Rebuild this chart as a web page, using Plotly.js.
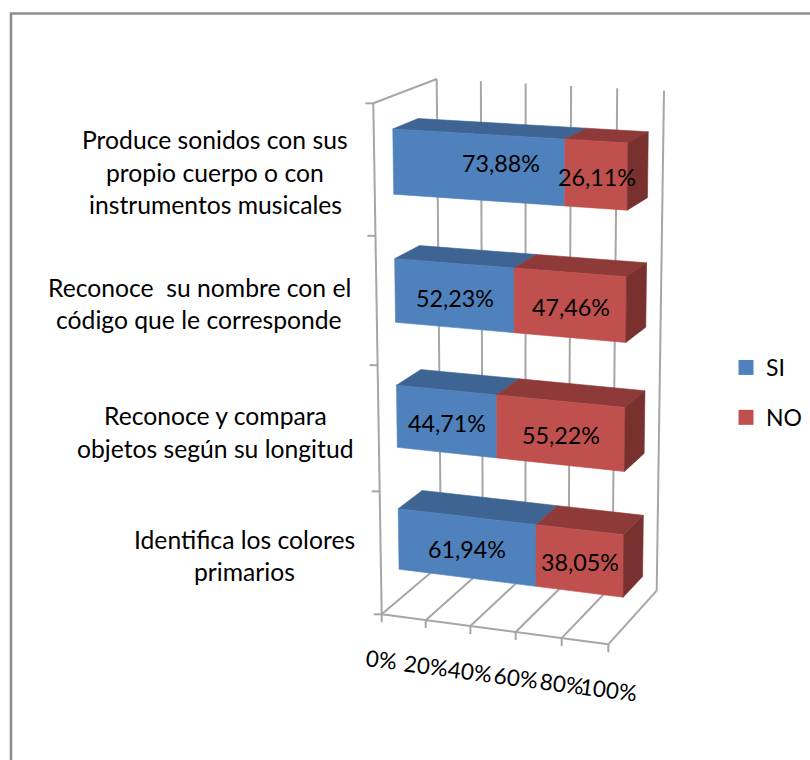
<!DOCTYPE html>
<html>
<head>
<meta charset="utf-8">
<script src="https://cdn.plot.ly/plotly-3.0.1.min.js"></script>
<style>html,body{margin:0;padding:0;background:#fff}#chart{width:810px;height:760px}</style>
</head>
<body>
<div id="chart"></div>
<script>
// ---- data ----
const categories = [
  ["Produce sonidos con sus", "propio cuerpo o con", "instrumentos musicales"],
  ["Reconoce\u00a0 su nombre con el", "código que le corresponde"],
  ["Reconoce y compara", "objetos según su longitud"],
  ["Identifica los colores", "primarios"]
];
const si = [73.88, 52.23, 44.71, 61.94];
const no = [26.11, 47.46, 55.22, 38.05];
const valueTicks = [0, 20, 40, 60, 80, 100];

// ---- layout of the oblique 3-D box (screen pixels of the plot cube's corners) ----
const cube = {
  fbl: [381.7, 614.3], fbr: [608.3, 644.3], ftl: [373.3, 103.3], ftr: [613.0, 116.7],
  bbl: [441.0, 564.0], bbr: [656.7, 590.7], btl: [436.7, 79.0],  btr: [664.0, 90.7]
};
const depthFront = 0.3, depthBack = 0.7, barHalf = 0.0625;
const warpT = 0.036, warpR = 0.05;
const FONT = "Lato, Carlito, 'Open Sans', sans-serif";
const FS_CAT = 24.7, FS_VAL = 23.3, FS_TICK = 22.5, FS_LEG = 23;
const GRID = "#a6a6a6";
const faces = {
  si: {front: "#4f81bd", top: "#3e6493"},
  no: {front: "#c0504d", top: "#8e3a38", side: "#793130"}
};
const categoryCentres = [215, 199, 215, 244];
const categoryLineYs = [[139, 172, 204], [287, 319], [415, 448], [539, 571]];
const labelAnchors = {
  si: [[500.7, 162.7], [455, 298.3], [447.3, 423.3], [467.3, 549.3]],
  no: [[597.3, 177.3], [570.7, 307.3], [561, 435], [580, 562]]
};

const lerp = (a, b, k) => [a[0] + (b[0] - a[0]) * k, a[1] + (b[1] - a[1]) * k];
function project(t, r, d) {
  const tt = t + warpT * t * (t - 1), rr = r + warpR * r * (r - 1);
  const f = lerp(lerp(cube.fbl, cube.fbr, tt), lerp(cube.ftl, cube.ftr, tt), rr);
  const b = lerp(lerp(cube.bbl, cube.bbr, tt), lerp(cube.btl, cube.btr, tt), rr);
  return lerp(f, b, d);
}

const traces = [];
function lineTrace(segments, width) {
  const x = [], y = [];
  segments.forEach(s => { s.forEach(p => { x.push(p[0]); y.push(p[1]); }); x.push(null); y.push(null); });
  traces.push({type: "scatter", mode: "lines", x, y, hoverinfo: "skip", showlegend: false,
    line: {color: GRID, width: width || 2}});
}
function poly(points, color) {
  const closed = points.concat([points[0]]);
  traces.push({type: "scatter", mode: "lines", fill: "toself", fillcolor: color,
    x: closed.map(p => p[0]), y: closed.map(p => p[1]),
    line: {color: color, width: 0.6}, hoverinfo: "skip", showlegend: false});
}

// walls and floor
const gridSegs = valueTicks.map(v => [project(v / 100, 1, 1), project(v / 100, 0, 1)]);
const floorSegs = valueTicks.map(v => [project(v / 100, 0, 1), project(v / 100, 0, 0)]);
const tickSegs = valueTicks.map(v => {
  const p = project(v / 100, 0, 0);
  return [p, [p[0], p[1] + 8]];
});
const rowSegs = [0, 1, 2, 3, 4].map(k => {
  const p = project(0, k / 4, 0);
  return [p, [p[0] - 8, p[1]]];
});
lineTrace(gridSegs);
lineTrace(floorSegs);
lineTrace(tickSegs);
lineTrace(rowSegs);
lineTrace([[project(0, 0, 0), project(1, 0, 0)], [project(0, 0, 0), project(0, 1, 0)], [project(0, 1, 0), project(0, 1, 1)]]);

// bars
categories.forEach((c, i) => {
  const rc = (categories.length - 1 - i + 0.5) / categories.length;
  const r0 = rc - barHalf, r1 = rc + barHalf;
  const split = si[i] / (si[i] + no[i]);
  [[0, split, faces.si], [split, 1, faces.no]].forEach(([t0, t1, col]) => {
    poly([project(t0, r1, depthFront), project(t1, r1, depthFront), project(t1, r1, depthBack), project(t0, r1, depthBack)], col.top);
    poly([project(t0, r0, depthFront), project(t1, r0, depthFront), project(t1, r1, depthFront), project(t0, r1, depthFront)], col.front);
  });
  poly([project(1, r0, depthFront), project(1, r0, depthBack), project(1, r1, depthBack), project(1, r1, depthFront)], faces.no.side);
});

// legend entries
traces.push({type: "scatter", mode: "markers", name: "SI", x: [null], y: [null], legendgroup: "si",
  marker: {symbol: "square", size: 15, color: faces.si.front}});
traces.push({type: "scatter", mode: "markers", name: "NO", x: [null], y: [null], legendgroup: "no",
  marker: {symbol: "square", size: 15, color: faces.no.front}});

// text
const pct = v => v.toFixed(2).replace(".", ",") + "%";
const note = (x, y, text, size, extra) => Object.assign({
  x, y, xref: "x", yref: "y", text, showarrow: false, xanchor: "center", yanchor: "middle",
  font: {family: FONT, size, color: "#000"}
}, extra || {});
const annotations = [];
si.forEach((v, i) => annotations.push(note(labelAnchors.si[i][0], labelAnchors.si[i][1], pct(v), FS_VAL)));
no.forEach((v, i) => annotations.push(note(labelAnchors.no[i][0], labelAnchors.no[i][1], pct(v), FS_VAL)));
categories.forEach((lines, i) => lines.forEach((ln, j) =>
  annotations.push(note(categoryCentres[i], categoryLineYs[i][j], ln, FS_CAT))));
valueTicks.forEach(v => {
  const p = project(v / 100, 0, 0);
  annotations.push(note(p[0], p[1] + 45, v + "%", FS_TICK, {textangle: 7}));
});

Plotly.newPlot("chart", traces, {
  width: 810, height: 760,
  margin: {l: 0, r: 0, t: 0, b: 0},
  paper_bgcolor: "#fff", plot_bgcolor: "#fff",
  xaxis: {range: [0, 810], visible: false, fixedrange: true},
  yaxis: {range: [760, 0], visible: false, fixedrange: true},
  showlegend: true,
  legend: {x: 726 / 810, y: 1 - 346 / 760, xanchor: "left", yanchor: "top",
    font: {family: FONT, size: FS_LEG, color: "#000"}, tracegroupgap: 17,
    itemsizing: "trimmed", bgcolor: "rgba(0,0,0,0)", itemclick: false, itemdoubleclick: false},
  shapes: [{type: "rect", xref: "x", yref: "y", x0: 11, y0: 13.5, x1: 840, y1: 800,
    line: {color: "#8e8e8e", width: 2.6}, fillcolor: "rgba(0,0,0,0)", layer: "below"}],
  annotations
}, {displayModeBar: false, responsive: false});
</script>
</body>
</html>
